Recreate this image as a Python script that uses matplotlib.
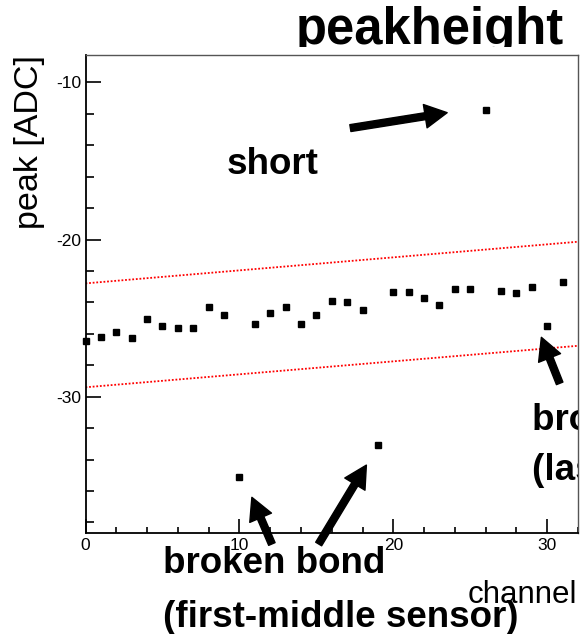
import numpy as np
import matplotlib
matplotlib.use("Agg")
import matplotlib.pyplot as plt
from matplotlib.ticker import MultipleLocator
from matplotlib.patches import Rectangle

plt.rcParams['font.family'] = ['Liberation Sans', 'DejaVu Sans']
plt.rcParams['axes.unicode_minus'] = False

# peak height per readout channel
channel = np.arange(32)
peak = [-26.46, -26.22, -25.86, -26.25, -25.08, -25.50, -25.60, -25.65,
        -24.30, -24.80, -35.13, -25.36, -24.68, -24.31, -25.38, -24.80,
        -23.91, -24.00, -24.50, -33.05, -23.32, -23.34, -23.74, -24.17,
        -23.13, -23.13, -11.76, -23.25, -23.38, -23.02, -25.50, -22.68]

# acceptance band around the linear fit
band_x = [0, 32]
band_upper = [-22.79, -20.14]
band_lower = [-29.40, -26.76]

# arrows: (tail, tip) in channel / ADC units
arrows = [((17.21, -12.91), (23.50, -11.93)),
          ((12.11, -39.37), (10.81, -36.40)),
          ((15.15, -39.37), (18.25, -34.35)),
          ((30.81, -29.15), (29.62, -26.22))]

W, H = 581, 634
fig = plt.figure(figsize=(W / 100, H / 100), dpi=100)
fig.patch.set_facecolor('white')
ax = fig.add_axes([85.5 / W, 1 - 533 / H, (578 - 85.5) / W, (533 - 55) / H])

def fx(x):
    return x / W

def fy(y):
    return 1 - y / H

ax.plot(band_x, band_upper, color='red', lw=1.3, ls=(0, (1, 1)))
ax.plot(band_x, band_lower, color='red', lw=1.3, ls=(0, (1, 1)))
ax.plot(channel, peak, ls='none', marker='s', ms=5, color='black', clip_on=False, zorder=5)

ax.set_xlim(0, 32)
ax.set_ylim(-38.67, -8.26)
ax.xaxis.set_major_locator(MultipleLocator(10))
ax.xaxis.set_minor_locator(MultipleLocator(2))
ax.yaxis.set_major_locator(MultipleLocator(10))
ax.yaxis.set_minor_locator(MultipleLocator(2))
ax.tick_params(which='both', direction='in', top=False, right=False, width=1.2, labelsize=12.5)
ax.tick_params(axis='y', which='major', length=10.8, pad=3.2)
ax.tick_params(axis='y', which='minor', length=5.8)
ax.tick_params(axis='x', which='major', length=10, pad=3.5)
ax.tick_params(axis='x', which='minor', length=4.3)
for s in ['left', 'bottom']:
    ax.spines[s].set_linewidth(1.3)
    ax.spines[s].set_color('black')
for s in ['top', 'right']:
    ax.spines[s].set_linewidth(1.0)
    ax.spines[s].set_color('#555555')

for tail, tip in arrows:
    ax.annotate('', xy=tip, xytext=tail, annotation_clip=False,
                arrowprops=dict(arrowstyle='simple,head_width=1.7,head_length=1.6,tail_width=0.5',
                                mutation_scale=10, color='black', shrinkA=0, shrinkB=0))

# title box cuts the descenders
title_clip = Rectangle((0, fy(47)), 1, 1 - fy(47), transform=fig.transFigure)
t = fig.text(fx(430), fy(44), 'peakheight', fontsize=36.5, fontweight='bold',
             ha='center', va='baseline')
t.set_clip_path(title_clip)

fig.text(fx(38.3), fy(55), 'peak [ADC]', fontsize=24.5, rotation=90,
         rotation_mode='anchor', ha='right', va='baseline')
fig.text(fx(577), fy(602.7), 'channel', fontsize=22.5, ha='right', va='baseline')

fig.text(fx(226.7), fy(174), 'short', fontsize=26.5, fontweight='bold', va='baseline')
fig.text(fx(163.3), fy(573.3), 'broken bond', fontsize=26.5, fontweight='bold', va='baseline')
fig.text(fx(163.3), fy(627), '(first-middle sensor)', fontsize=26.5, fontweight='bold', va='baseline')

right_clip = Rectangle((0, 0), fx(578), 1, transform=fig.transFigure)
for txt, yb in [('broken bond', 430), ('(last sensor)', 480)]:
    r = fig.text(fx(531.7), fy(yb), txt, fontsize=26.5, fontweight='bold', va='baseline')
    r.set_clip_path(right_clip)

fig.savefig('out.png', dpi=100)
